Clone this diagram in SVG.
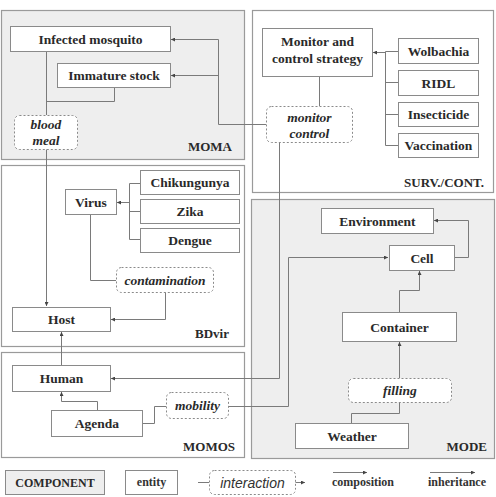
<svg xmlns="http://www.w3.org/2000/svg" width="496" height="497" viewBox="0 0 496 497">
<defs>
<style>
.comp{stroke:#9a9a9a;stroke-width:1.2}
.g{fill:#eeeeee}
.w{fill:#ffffff}
.ent{fill:#fff;stroke:#8a8a8a;stroke-width:1}
.int{fill:#fff;stroke:#8a8a8a;stroke-width:1;stroke-dasharray:2,2}
.t{font-family:"Liberation Serif","Times New Roman",serif;font-weight:bold;font-size:13.5px;fill:#2a2a2a;text-anchor:middle}
.ti{font-family:"Liberation Serif","Times New Roman",serif;font-weight:bold;font-style:italic;font-size:13.5px;fill:#2a2a2a;text-anchor:middle}
.lbl{font-family:"Liberation Serif","Times New Roman",serif;font-weight:bold;font-size:13px;fill:#2a2a2a;text-anchor:end}
.lg{font-family:"Liberation Serif","Times New Roman",serif;font-weight:bold;font-size:12px;fill:#333;text-anchor:middle}
.ls{font-family:"Liberation Sans",Arial,sans-serif;font-style:italic;font-size:14px;fill:#333;text-anchor:middle}
.c{fill:none;stroke:#7a7a7a;stroke-width:1}
.a{marker-end:url(#ah)}
</style>
<marker id="ah" viewBox="0 0 6 6" refX="6" refY="3" markerWidth="4" markerHeight="4" orient="auto" markerUnits="userSpaceOnUse">
<path d="M0,0 L6,3 L0,6 z" fill="#444"/>
</marker>
</defs>

<g id="components">
<g id="MOMA"><rect class="comp g" x="1.5" y="10.5" width="243" height="149"/><text class="lbl" x="232" y="151">MOMA</text></g>
<g id="SURV"><rect class="comp w" x="252.5" y="10.5" width="241" height="182"/><text class="lbl" x="484" y="187">SURV./CONT.</text></g>
<g id="BDvir"><rect class="comp w" x="1.5" y="165.5" width="243" height="181"/><text class="lbl" x="229" y="338">BDvir</text></g>
<g id="MODE"><rect class="comp g" x="251.5" y="199.5" width="243" height="259"/><text class="lbl" x="487" y="451">MODE</text></g>
<g id="MOMOS"><rect class="comp w" x="1.5" y="352.5" width="243" height="105"/><text class="lbl" x="235" y="451">MOMOS</text></g>
</g>

<g id="connectors">
<path class="c a" d="M266,124.5 H218.5 V39.5 H171"/>
<path class="c a" d="M218.5,75.5 H171"/>
<path class="c" d="M46.5,51 V115"/>
<path class="c" d="M114.5,87 V101.5 H46.5"/>
<path class="c a" d="M46.5,149 V306"/>
<path class="c" d="M319.5,76 V106"/>
<path class="c" d="M398,51.5 H385.5 V145.5 H398 M398,82.5 H385.5 M398,114.5 H385.5"/>
<path class="c a" d="M385.5,52.5 H373"/>
<path class="c a" d="M279.5,142 V378.5 H111"/>
<path class="c" d="M140,183.5 H129.5 V239.5 H140 M140,211.5 H129.5"/>
<path class="c a" d="M129.5,202.5 H117"/>
<path class="c" d="M90.5,214 V280.5 H116"/>
<path class="c a" d="M165.5,292 V319.5 H111"/>
<path class="c a" d="M61.5,365 V332"/>
<path class="c a" d="M97.5,410 V401.5 H61.5 V392"/>
<path class="c" d="M142,423.5 H154.5 V406.5 H166"/>
<path class="c a" d="M228,406.5 H288.5 V257.5 H388"/>
<path class="c a" d="M454,257.5 H468.5 V220.5 H434"/>
<path class="c a" d="M399.5,312 V290.5 H419.5 V271"/>
<path class="c a" d="M399.5,378 V342"/>
<path class="c" d="M351.5,423 V413.5 H399.5 V402"/>
</g>

<g id="n-infected"><rect class="ent" x="10.5" y="26.5" width="160" height="25"/><text class="t" x="90.5" y="43.5">Infected mosquito</text></g>
<g id="n-immature"><rect class="ent" x="57.5" y="63.5" width="113" height="24"/><text class="t" x="114" y="80">Immature stock</text></g>
<g id="n-bloodmeal"><rect class="int" x="14.5" y="115.5" width="63" height="34" rx="5"/><text class="ti" x="46" y="129">blood</text><text class="ti" x="46" y="145">meal</text></g>
<g id="n-strategy"><rect class="ent" x="262.5" y="28.5" width="110" height="48"/><text class="t" x="317.5" y="46">Monitor and</text><text class="t" x="317.5" y="63">control strategy</text></g>
<g id="n-wolbachia"><rect class="ent" x="398.5" y="38.5" width="80" height="25"/><text class="t" x="438.5" y="55.5">Wolbachia</text></g>
<g id="n-ridl"><rect class="ent" x="398.5" y="70.5" width="80" height="25"/><text class="t" x="438.5" y="87.5">RIDL</text></g>
<g id="n-insecticide"><rect class="ent" x="398.5" y="102.5" width="80" height="24"/><text class="t" x="438.5" y="119">Insecticide</text></g>
<g id="n-vaccination"><rect class="ent" x="398.5" y="133.5" width="80" height="24"/><text class="t" x="438.5" y="150">Vaccination</text></g>
<g id="n-monitorcontrol"><rect class="int" x="266.5" y="106.5" width="86" height="36" rx="5"/><text class="ti" x="309.5" y="122">monitor</text><text class="ti" x="309.5" y="138">control</text></g>
<g id="n-virus"><rect class="ent" x="65.5" y="189.5" width="51" height="25"/><text class="t" x="91" y="206.5">Virus</text></g>
<g id="n-chik"><rect class="ent" x="140.5" y="170.5" width="99" height="24"/><text class="t" x="190" y="187">Chikungunya</text></g>
<g id="n-zika"><rect class="ent" x="140.5" y="199.5" width="99" height="24"/><text class="t" x="190" y="216">Zika</text></g>
<g id="n-dengue"><rect class="ent" x="140.5" y="228.5" width="99" height="24"/><text class="t" x="190" y="245">Dengue</text></g>
<g id="n-contamination"><rect class="int" x="116.5" y="267.5" width="97" height="25" rx="5"/><text class="ti" x="165" y="284.5">contamination</text></g>
<g id="n-host"><rect class="ent" x="12.5" y="307.5" width="98" height="24"/><text class="t" x="61.5" y="324">Host</text></g>
<g id="n-environment"><rect class="ent" x="321.5" y="208.5" width="112" height="25"/><text class="t" x="377.5" y="225.5">Environment</text></g>
<g id="n-cell"><rect class="ent" x="389.5" y="245.5" width="65" height="25"/><text class="t" x="422" y="262.5">Cell</text></g>
<g id="n-container"><rect class="ent" x="342.5" y="312.5" width="114" height="29"/><text class="t" x="399.5" y="331.5">Container</text></g>
<g id="n-filling"><rect class="int" x="348.5" y="378.5" width="103" height="24" rx="5"/><text class="ti" x="400" y="395">filling</text></g>
<g id="n-weather"><rect class="ent" x="295.5" y="423.5" width="113" height="25"/><text class="t" x="352" y="440.5">Weather</text></g>
<g id="n-human"><rect class="ent" x="12.5" y="365.5" width="98" height="26"/><text class="t" x="61.5" y="383">Human</text></g>
<g id="n-agenda"><rect class="ent" x="51.5" y="410.5" width="91" height="26"/><text class="t" x="97" y="428">Agenda</text></g>
<g id="n-mobility"><rect class="int" x="166.5" y="392.5" width="62" height="26" rx="5"/><text class="ti" x="197.5" y="410">mobility</text></g>

<g id="legend">
<rect class="g" x="5.5" y="470.5" width="99" height="24" stroke="#8a8a8a"/><text class="t" x="55" y="487" style="font-size:12px">COMPONENT</text>
<rect class="ent" x="125.5" y="470.5" width="52" height="24"/><text class="lg" x="151.5" y="486">entity</text>
<path class="c" d="M198,482.5 H209"/>
<rect class="int" x="209.5" y="470.5" width="86" height="24" rx="5"/><text class="ls" x="252.5" y="487.5">interaction</text>
<path class="c a" d="M295.5,482.5 H305"/>
<path class="c a" d="M333,472.5 H367"/>
<text class="lg" x="363" y="486">composition</text>
<path class="c a" d="M430,472.5 H475"/>
<text class="lg" x="457" y="486">inheritance</text>
</g>
</svg>
